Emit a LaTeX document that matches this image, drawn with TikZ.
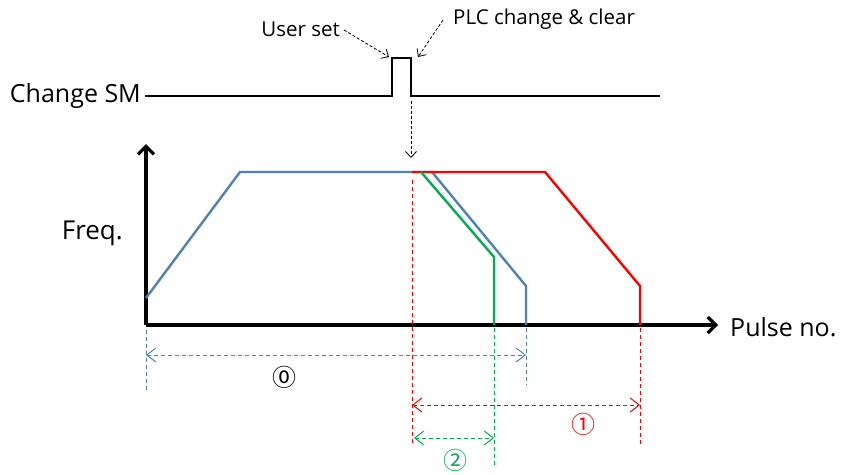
\documentclass[tikz,border=0pt]{standalone}
\usepackage{fontspec}
\setmainfont{Open Sans}
\newfontfamily\circfont{Noto Sans CJK JP}
\usetikzlibrary{arrows.meta}
\definecolor{curveblue}{HTML}{4F81BD}
\definecolor{curvered}{HTML}{FF0000}
\definecolor{curvegreen}{HTML}{00B050}

\begin{document}
\begin{tikzpicture}[x=1pt,y=-1pt,
    axis/.style={line width=3.2pt,-{Straight Barb[length=8pt,width=16pt]}},
    signal/.style={line width=2.2pt},
    curve/.style={line width=2.4pt,line join=miter},
    guide/.style={line width=1pt,dash pattern=on 4pt off 3pt},
    dim/.style={guide,{Straight Barb[length=9pt,width=14pt]}-{Straight Barb[length=9pt,width=14pt]}},
    note/.style={line width=0.8pt,dash pattern=on 3pt off 2pt,-{Straight Barb[length=6pt,width=11pt]}},
    lbl/.style={inner sep=0pt,font=\fontsize{25}{28}\selectfont},
    small/.style={inner sep=0pt,font=\fontsize{20.5}{23}\selectfont},
    circ/.style={inner sep=0pt,font=\circfont\fontsize{24}{26}\selectfont}]
  \useasboundingbox (0,0) rectangle (845,474);

  % change SM signal
  \node[lbl,anchor=east] (sm) at (141,96) {Change SM};
  \coordinate (riseL) at (392,96);
  \coordinate (riseT) at (392,58);
  \coordinate (fallT) at (411,58);
  \coordinate (fallB) at (411,96);
  \coordinate (smend) at (660,96);
  \draw[signal] (sm.east) ++(4,0) -- (riseL) -- (riseT) -- (fallT) -- (fallB) -- (smend);

  \node[small,anchor=east] (userset) at (340,29) {User set};
  \node[small,anchor=west] (plc) at (453,19) {PLC change \& clear};
  \coordinate (userhit) at (389,57);
  \coordinate (plchit) at (418,57);
  \draw[note] (userset.east) ++(4,1) -- (userhit);
  \draw[note] (plc.west) ++(-10,1) -- (plchit);
  \coordinate (downtip) at (411,158);
  \draw[note] (fallB) ++(0,5) -- (downtip);

  % axes
  \coordinate (origin) at (146,325);
  \coordinate (ytip) at (146,144);
  \coordinate (xtip) at (718,325);
  \draw[axis] (origin) -- (ytip);
  \draw[axis] (origin) -- (xtip);
  \node[lbl,anchor=east,font=\fontsize{26}{28}\selectfont] (freq) at (123,233) {Freq.};
  \node[lbl,anchor=west] (pulse) at (730,327) {Pulse no.};

  % profiles
  \coordinate (change) at (412,172);
  \draw[curve,curveblue] (146,298) -- (240,172) -- (change) -- (432,172) -- (526,286) -- (526,325);
  \draw[curve,curvered] (change) -- (545,172) -- (640,286) -- (640,325);
  \draw[curve,curvegreen] (421,172) -- (494,257) -- (494,325);

  % guides
  \draw[guide,curvered] (412,180) -- (412,445);
  \draw[guide,curvered] (640,328) -- (640,445);
  \draw[guide,curvegreen] (494,328) -- (494,465);
  \draw[guide,curveblue] (146,330) -- (146,390);
  \draw[guide,curveblue] (526,328) -- (526,385);

  % dimensions
  \coordinate (d0a) at (146,355);
  \coordinate (d0b) at (526,355);
  \coordinate (d1a) at (412,405);
  \coordinate (d1b) at (640,405);
  \coordinate (d2a) at (414,438);
  \coordinate (d2b) at (494,438);
  \draw[dim,curveblue] (d0a) -- (d0b);
  \draw[dim,curvered] (d1a) -- (d1b);
  \draw[dim,curvegreen] (d2a) -- (d2b);
  \node[circ] (n0) at (284,377) {⓪};
  \node[circ,text=curvered] (n1) at (583,424) {①};
  \node[circ,text=curvegreen] (n2) at (455,460) {②};
\end{tikzpicture}
\end{document}
